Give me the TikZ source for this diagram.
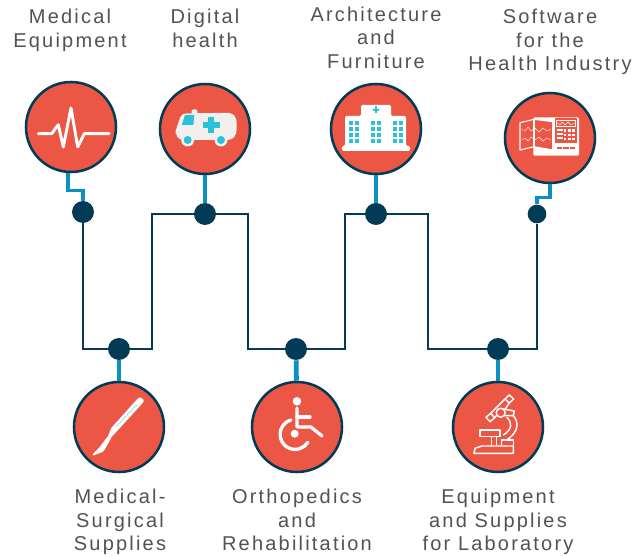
\documentclass[tikz,border=0pt]{standalone}
\usepackage{fontspec}
\setmainfont[LetterSpace=11]{Liberation Sans}
\definecolor{hubred}{HTML}{EB5744}
\definecolor{deepblue}{HTML}{033A55}
\definecolor{feedblue}{HTML}{0A90C2}
\definecolor{iconcyan}{HTML}{2DC1D9}
\definecolor{iconwhite}{HTML}{F1F0EE}
\tikzset{
    hub/.style={circle,draw=deepblue,fill=hubred,line width=1.9pt,inner sep=0pt,minimum size=67.5pt},
    hubdot/.style={circle,fill=deepblue,inner sep=0pt,minimum size=16.5pt},
    smalldot/.style={circle,fill=deepblue,inner sep=0pt,minimum size=14pt},
    trunk/.style={draw=deepblue,line width=1.8pt,line join=miter},
    feeder/.style={draw=feedblue,line width=3.6pt},
    thinfeeder/.style={draw=feedblue,line width=2.6pt},
    caption/.style={align=center,font=\fontsize{15}{17.6}\selectfont,inner sep=0pt,text=black!68},
    iconline/.style={draw=white,line width=2.2pt,line cap=round,line join=round},
    iconthin/.style={draw=white,line width=0.8pt,line join=round},
    microline/.style={draw=white,line width=1.1pt,line join=round}
}
\begin{document}
\begin{tikzpicture}[x=0.75pt,y=-0.75pt]
    \useasboundingbox (0,0) rectangle (636,556);

    \node[hub] (circA) at (71,127) {};
    \node[hub] (circB) at (205,129) {};
    \node[hub] (circC) at (376,129) {};
    \node[hub] (circD) at (550,138) {};
    \node[hub] (circE) at (119,427) {};
    \node[hub] (circF) at (297,427) {};
    \node[hub] (circG) at (498,427) {};

    \node[hubdot] (dotA) at (83,212) {};
    \node[hubdot] (dotB) at (205,214) {};
    \node[hubdot] (dotC) at (376,214) {};
    \node[smalldot] (dotD) at (537,214) {};
    \node[hubdot] (dotE) at (119,349) {};
    \node[hubdot] (dotF) at (296,349) {};
    \node[hubdot] (dotG) at (498,349) {};

    \coordinate (riseA) at (152,214);
    \coordinate (fallA) at (248,214);
    \coordinate (riseB) at (345,214);
    \coordinate (fallB) at (428,214);

    \draw[trunk] (dotA) |- (dotE);
    \draw[trunk] (dotE) -| (riseA) -- (dotB);
    \draw[trunk] (dotB) -- (fallA) |- (dotF);
    \draw[trunk] (dotF) -| (riseB) -- (dotC);
    \draw[trunk] (dotC) -- (fallB) |- (dotG);
    \draw[trunk] (dotG) -| (dotD);

    \draw[thinfeeder] ([xshift=-2.25pt]circA.south) -- ++(0,17) -| (dotA);
    \draw[feeder] (circB) -- (dotB);
    \draw[feeder] (circC) -- (dotC);
    \draw[thinfeeder] (circD.south) -- ++(0,13) -| (dotD);
    \draw[feeder] (circE) -- (dotE);
    \draw[feeder] (circF) -- (dotF);
    \draw[feeder] (circG) -- (dotG);

    \node[caption,anchor=south] (txtA) at (70,51.5) {Medical\\Equipment};
    \node[caption,anchor=south] (txtB) at (205,47.5) {Digital\\health};
    \node[caption,anchor=south] (txtC) at (376,68.5) {Architecture\\and\\Furniture};
    \node[caption,anchor=south] (txtD) at (550,75) {Software\\for the\\Health Industry};
    \node[caption,anchor=north] (txtE) at (120,489) {Medical-\\Surgical\\Supplies};
    \node[caption,anchor=north] (txtF) at (297,489) {Orthopedics\\and\\Rehabilitation};
    \node[caption,anchor=north] (txtG) at (498,489) {Equipment\\and Supplies\\for Laboratory};

    \begin{scope}[shift={(71,127)}]
        \draw[iconline] (-32.7,6.7) -- (-19.3,6.7) -- (-12.7,-2.3) -- (-7.7,20) -- (0,-19) -- (6.7,20) -- (13.3,6.7) -- (38,6.7);
    \end{scope}

    \begin{scope}[shift={(205,129)}]
        \fill[iconwhite,rounded corners=1pt] (-13.3,-19.7) rectangle (-7.7,-14);
        \fill[iconwhite,rounded corners=3pt] (-29.3,1) -- (-23.3,-15.5) -- (26.7,-16.3) -- (31.7,-11) -- (31.7,5) -- (27,11) -- (-26,11) -- (-29.3,5) -- cycle;
        \fill[iconcyan] (-20,-14) -- (-10.7,-14) -- (-11.7,-4) -- (-23.3,-4) -- cycle;
        \fill[iconcyan] (2.7,-12.3) rectangle (9.3,3.7);
        \fill[iconcyan] (-2.3,-7.3) rectangle (15,-1.3);
        \foreach \wx in {-17.3,16}{
            \fill[iconwhite] (\wx,11) circle (6.5);
            \fill[iconcyan] (\wx,11) circle (4);
        }
    \end{scope}

    \begin{scope}[shift={(376,129)}]
        \fill[white,rounded corners=1pt] (-15,-13) -- (-15,-24) -- (15,-24) -- (15,-13) -- (30,-13) -- (30,17) -- (34,17) -- (34,22) -- (-34,22) -- (-34,17) -- (-31,17) -- (-31,-13) -- cycle;
        \fill[iconcyan] (-1,-22.5) rectangle (1,-15.5);
        \fill[iconcyan] (-3,-20) rectangle (3,-18);
        \foreach \wx in {-25,-19,-3,3,19,25}{
            \foreach \wy in {-6.3,-0.3,5.7,11.7}{
                \fill[iconcyan] (\wx-2,\wy-2) rectangle (\wx+2,\wy+2);
            }
        }
    \end{scope}

    \begin{scope}[shift={(550,138)}]
        \fill[white,rounded corners=1pt] (-16.7,-20.7) rectangle (29,17.7);
        \fill[hubred] (5,-19.7) rectangle (26.7,4.7);
        \fill[hubred] (-30,-15.3) -- (-16,-18.7) -- (2.7,-16.3) -- (2.7,12) -- (-16,8.7) -- (-30,12) -- cycle;
        \draw[iconthin] (-30,-15.3) -- (-16,-18.7) -- (2.7,-16.3) -- (2.7,12) -- (-16,8.7) -- (-30,12) -- cycle;
        \draw[iconthin] (-16,-18.7) -- (-16,8.7);
        \draw[white,line width=0.3pt] (-28,-9) -- (-25,-7) -- (-22,-11) -- (-19,-7) -- (-15,-10) -- (-11,-6) -- (-7,-10) -- (-3,-7) -- (1,-9);
        \draw[white,line width=0.3pt] (-28,2) -- (-25,0) -- (-22,3) -- (-19,-1) -- (-15,2) -- (-11,-1) -- (-7,3) -- (-3,0) -- (1,2);
        \draw[white,line width=0.4pt] (6.7,-18) rectangle (25.7,-11.3);
        \draw[white,line width=0.3pt] (7.5,-15) -- (10,-13) -- (12,-16) -- (15,-13) -- (18,-16) -- (21,-13) -- (25,-15);
        \foreach \by in {-8,-4,0}{
            \fill[white] (6.7,\by-1) rectangle (13,\by+1);
        }
        \foreach \kx in {15,19.3,23.3}{
            \foreach \ky in {-7.3,-3,1.3}{
                \fill[white] (\kx-1.2,\ky-1.2) rectangle (\kx+1.2,\ky+1.2);
            }
        }
        \foreach \kx in {6.7,13.3,20}{
            \fill[hubred] (\kx,9) rectangle (\kx+5.3,11);
        }
    \end{scope}

    \begin{scope}[shift={(119,427)}]
        \fill[white,rounded corners=0.8pt] (18.3,-28) -- (21,-30) -- (25,-27) -- (24.3,-24.7) -- (-4,6.3) -- (-7.3,9.7) -- (-10.7,16.3) -- (-15.7,24.7) -- (-26.3,28.7) -- (-26.3,27.3) -- (-19,19.7) -- (-10.7,8.7) -- (-8,1.3) -- cycle;
        \draw[iconcyan!70,line width=0.9pt,densely dotted] (17.7,-22) -- (-3,-0.3);
    \end{scope}

    \begin{scope}[shift={(297,427)}]
        \fill[white] (0,-25.7) circle (4.3);
        \draw[iconline,line width=2.5pt] (0,-19) -- (0,0) -- (14,0) -- (25,9);
        \draw[iconline,line width=2.5pt] (0,-10) -- (13,-10);
        \fill[white] (-2.3,6.7) circle (4);
        \draw[iconline,line width=2.5pt] (-6,-7) arc[start angle=254,end angle=32,radius=15];
    \end{scope}

    \begin{scope}[shift={(498,427)}]
        \draw[microline] (-24,26.3) -- (-23,21.3) -- (-16,19) -- (15.3,19) -- (15.3,26.3) -- cycle;
        \draw[microline] (3.7,19) -- (3.7,13) -- (15.3,13) -- (15.3,19);
        \draw[microline] (-18,3) rectangle (2,9.7);
        \draw[microline] (-6.3,9.7) -- (-6.3,19);
        \draw[microline] (-1.3,9.7) -- (-1.3,19);
        \draw[microline] (7,-28) -- (11.3,-32) -- (15.7,-28) -- (11.3,-24) -- cycle;
        \draw[microline] (-12,-9.7) -- (-7.3,-13.7) -- (-3.3,-9.3) -- (-8,-5.3) -- cycle;
        \draw[microline] (-7.3,-13.7) -- (7,-28);
        \draw[microline] (-3.3,-9.3) -- (-1,-12);
        \draw[microline] (6.5,-17) -- (11.3,-24);
        \draw[microline] (2.7,-14.3) circle (4.5);
        \draw[microline] (5.3,-18) -- (16.3,-16) -- (15.3,-11.3) -- (6.3,-11.3);
        \draw[microline] (15.3,-11.3) .. controls (21,-5) and (21,5) .. (8.7,13);
        \draw[microline] (8.7,-9.7) .. controls (14,-5) and (15,2) .. (5.3,8);
    \end{scope}
\end{tikzpicture}
\end{document}
